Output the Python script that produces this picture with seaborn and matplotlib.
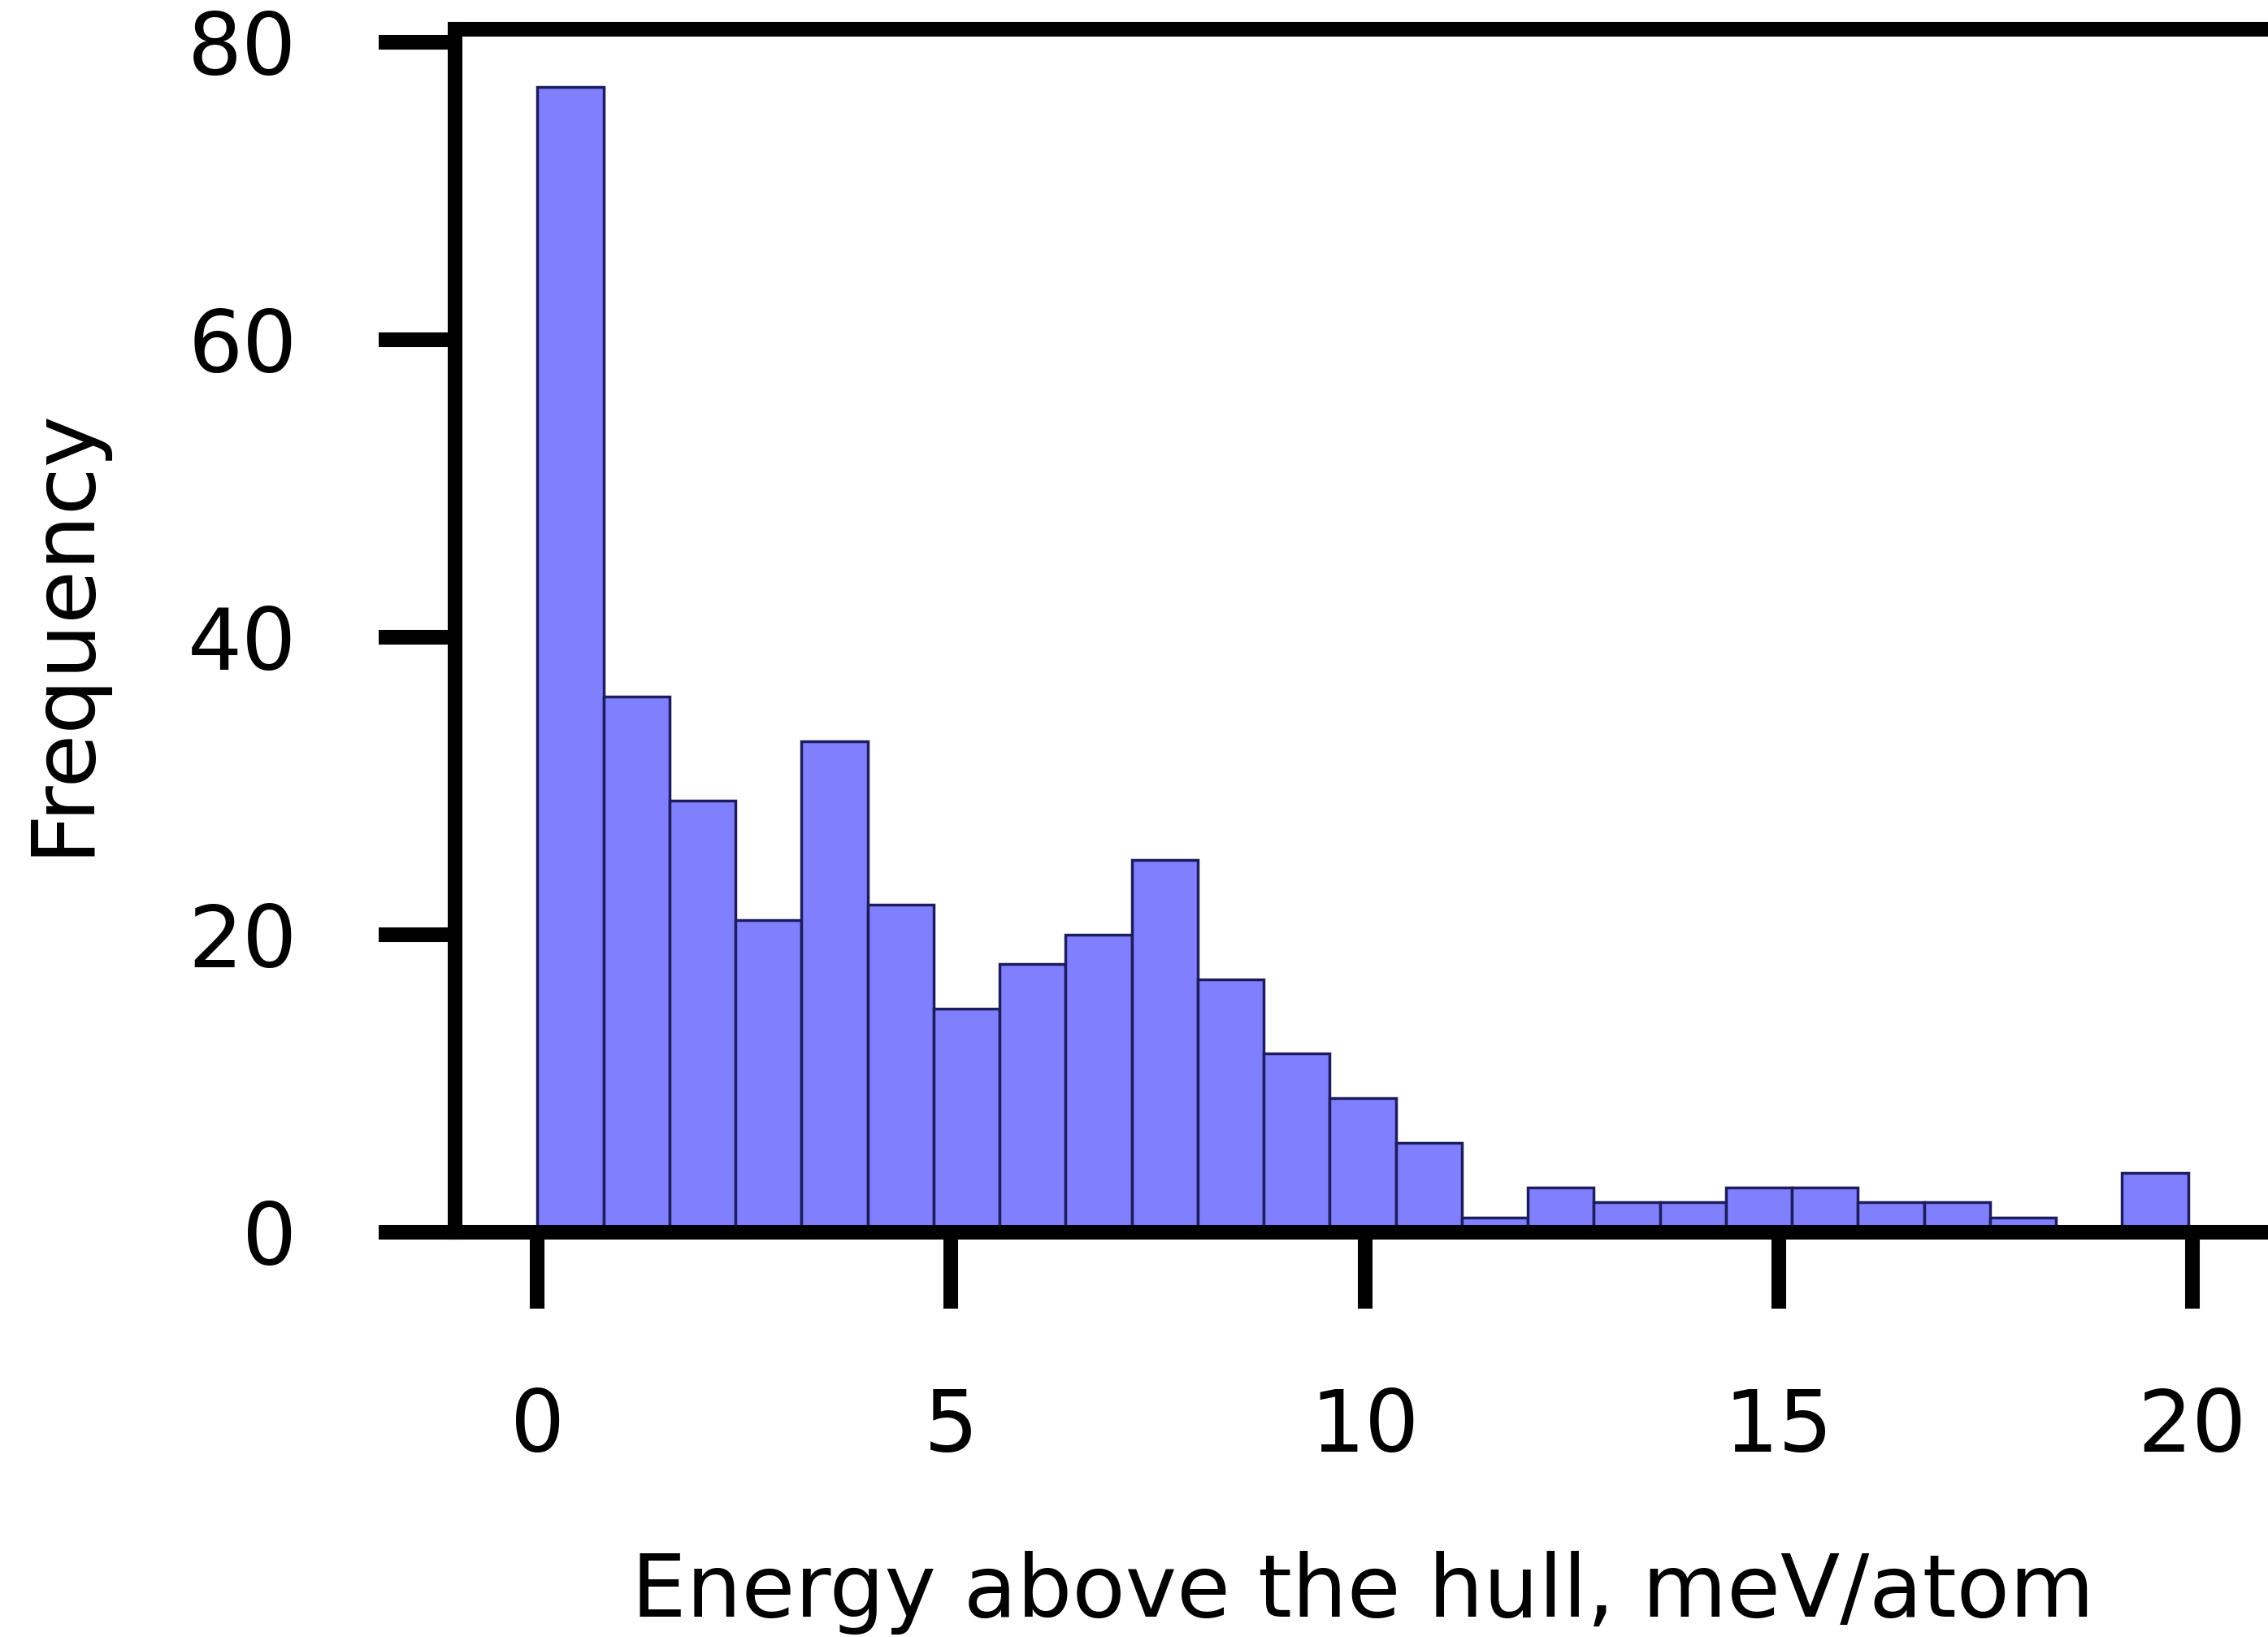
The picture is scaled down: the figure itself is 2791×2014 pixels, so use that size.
import matplotlib
matplotlib.use("Agg")
import matplotlib.pyplot as plt
import numpy as np
import pandas as pd
import seaborn as sns

# histogram counts (25 bins, 0 .. ~19.95 meV/atom)
counts = [77, 36, 29, 21, 33, 22, 15, 18, 20, 25, 17, 12, 9, 6,
          1, 3, 2, 2, 3, 3, 2, 2, 1, 0, 4]
e_max = 19.95
x_ticks = [0, 5, 10, 15, 20]
y_ticks = [0, 20, 40, 60, 80]

edges = np.linspace(0, e_max, len(counts) + 1)
df = pd.DataFrame({'energy': (edges[:-1] + edges[1:]) / 2, 'n': counts})

sns.set_style("ticks")
plt.rcParams['font.family'] = ['DejaVu Sans']
plt.rcParams['text.color'] = 'black'
plt.rcParams['axes.labelcolor'] = 'black'
plt.rcParams['xtick.color'] = 'black'
plt.rcParams['ytick.color'] = 'black'

fig = plt.figure(figsize=(27.91, 20.14), dpi=100)
ax = fig.add_axes([0.2006, 0.2473, 0.8005, 0.7348])

sns.histplot(data=df, x='energy', weights='n', bins=len(counts),
             binrange=(0, e_max), ax=ax,
             color='#8080ff', alpha=1.0, edgecolor='#1c1c5e', linewidth=2.5)

ax.set_xticks(x_ticks)
ax.set_yticks(y_ticks)

for s in ax.spines.values():
    s.set_linewidth(13)
    s.set_color('black')

ax.tick_params(axis='both', length=68, width=13, labelsize=76,
               color='black', labelcolor='black')
ax.tick_params(axis='x', pad=69)
ax.tick_params(axis='y', pad=72)

ax.set_xlabel('Energy above the hull, meV/atom', fontsize=77, labelpad=72)
ax.set_ylabel('Frequency', fontsize=77, labelpad=74)

fig.savefig('out.png', dpi=100)
